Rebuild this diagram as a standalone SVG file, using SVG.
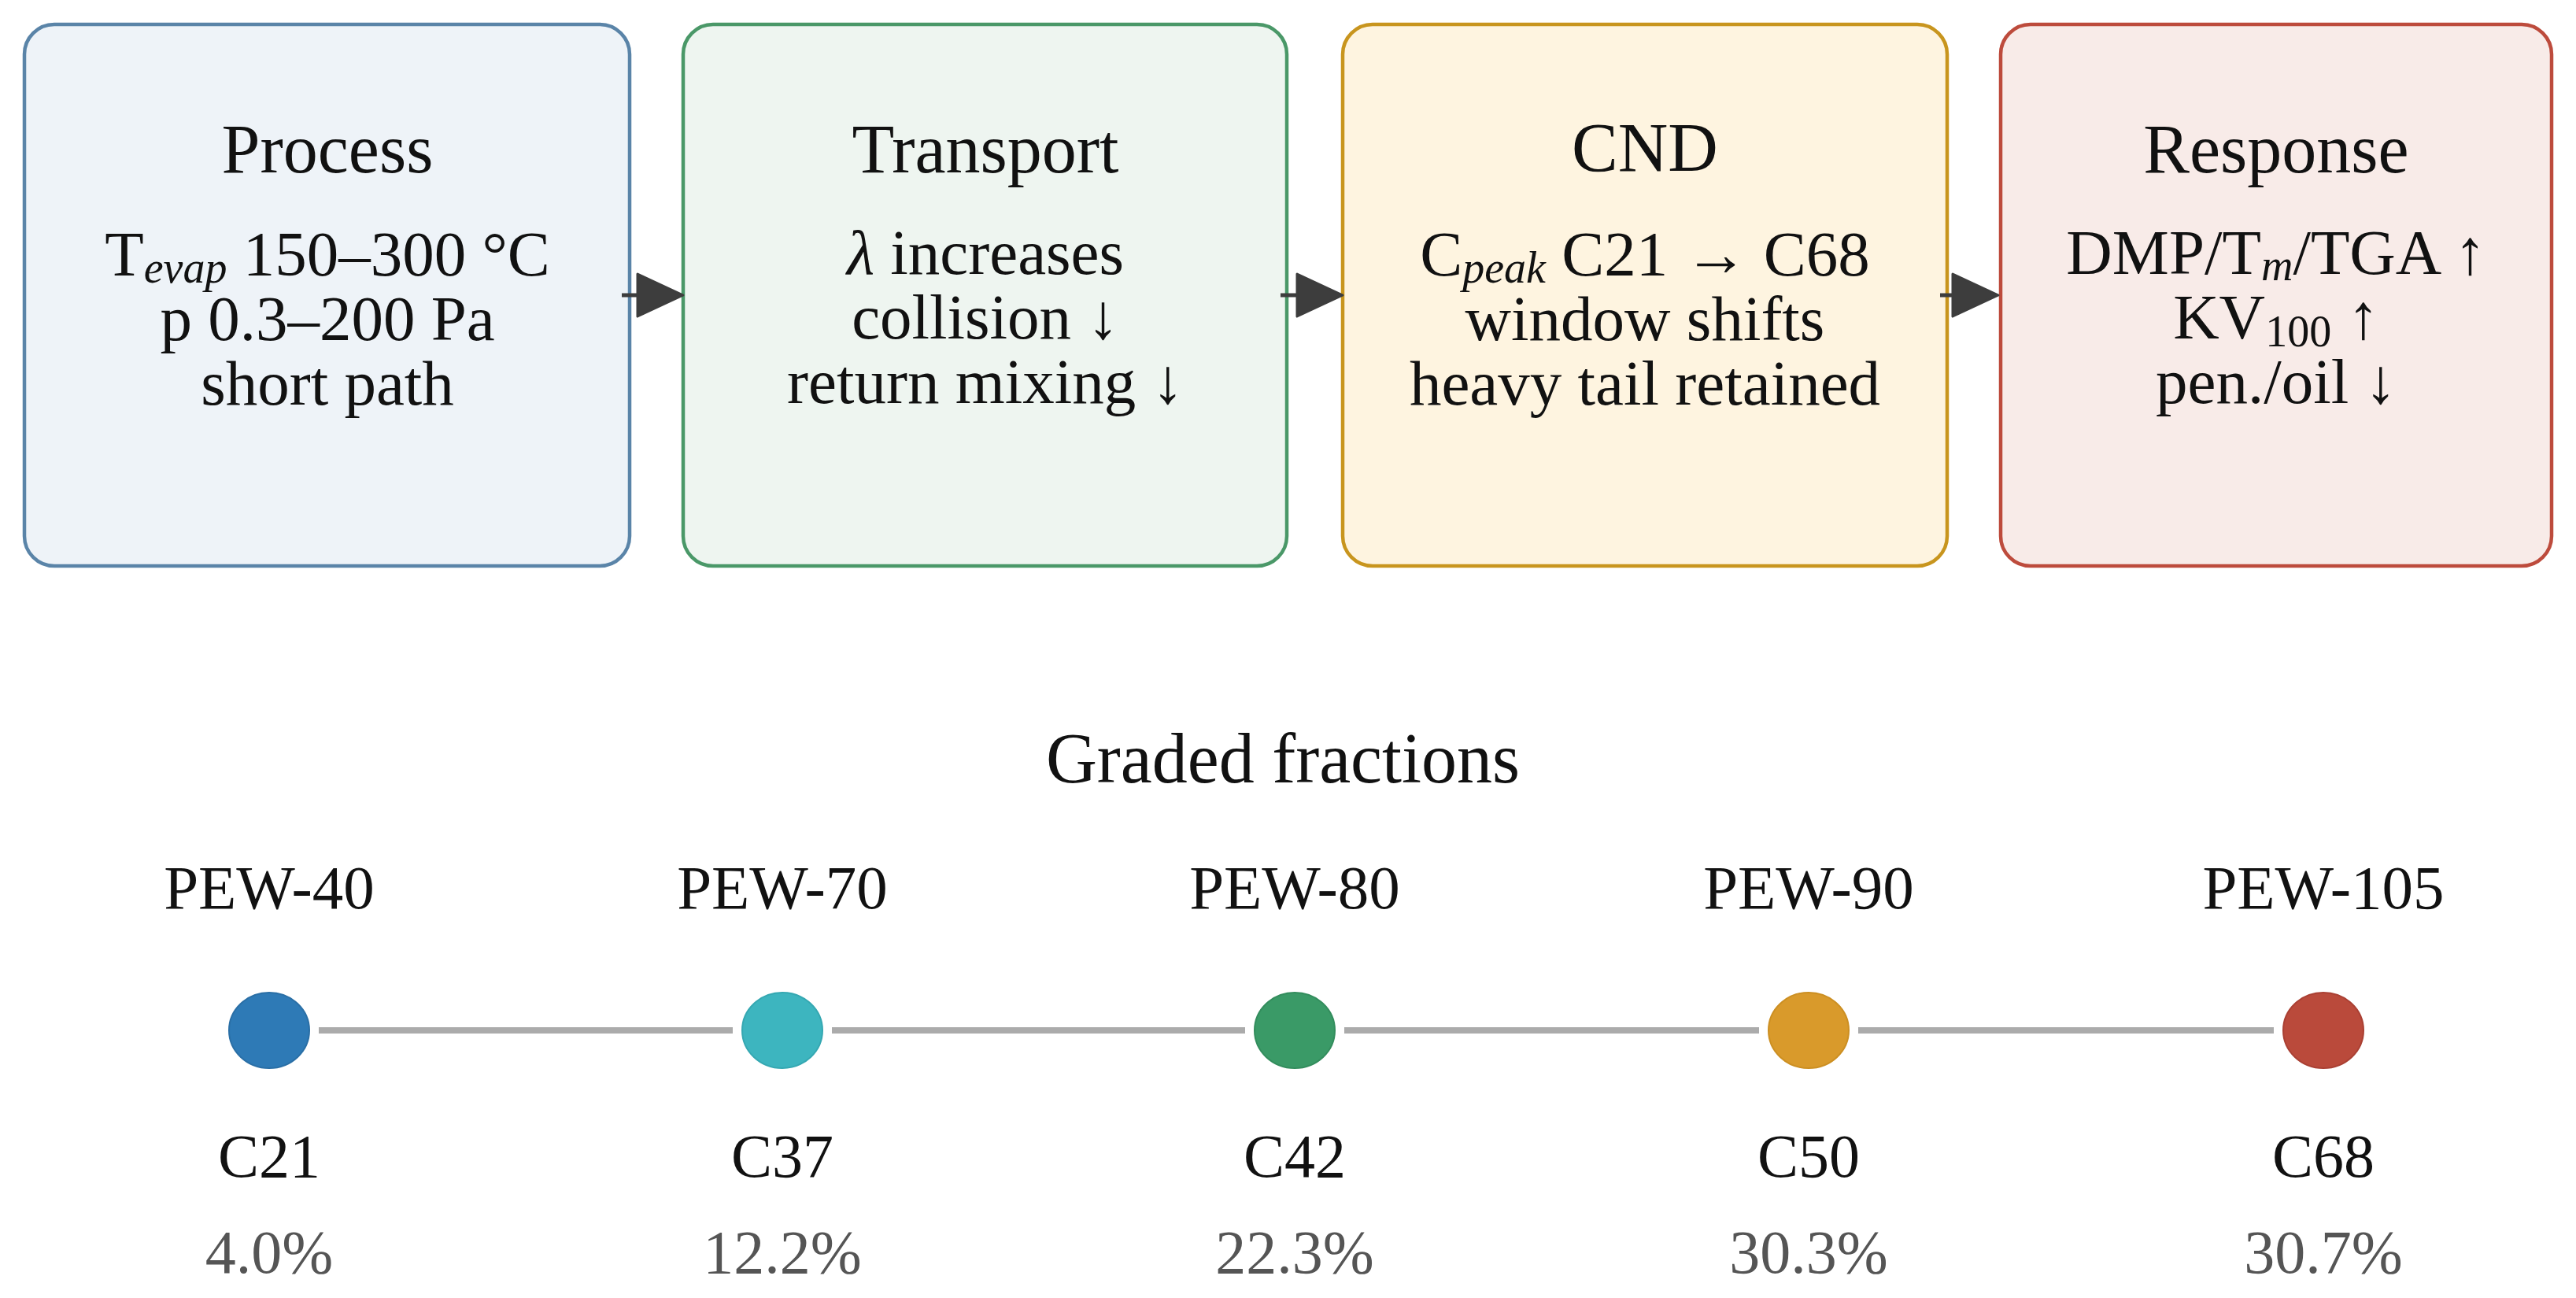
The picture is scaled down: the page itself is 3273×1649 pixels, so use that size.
<svg xmlns="http://www.w3.org/2000/svg" width="3273" height="1649" viewBox="0 0 3273 1649">
<defs>
<style>
text{font-family:"Liberation Serif","Times New Roman",serif;fill:#111;text-anchor:middle}
.title{font-size:88px}
.body{font-size:81px}
.sub{font-size:56px;font-style:italic}
.subn{font-size:56px}
.box{stroke-width:4.5}
.arrow{stroke:#3d3d3d;stroke-width:5;fill:none}
.gtitle{font-size:90px}
.lab{font-size:79px}
.cn{font-size:78px}
.pct{font-size:78px;fill:#555}
.tl{stroke:#ababab;stroke-width:8}
</style>
<marker id="ah" markerUnits="userSpaceOnUse" markerWidth="62" markerHeight="58" refX="2" refY="27" orient="auto" viewBox="-2 -2 62 58">
<path d="M0,0 L58,27 L0,54 Z" fill="#3d3d3d" stroke="#3d3d3d" stroke-width="3" stroke-linejoin="round"/>
</marker>
</defs>
<rect width="3273" height="1649" fill="#ffffff"/>

<g id="node-process">
<rect class="box" x="31" y="31" width="769" height="688" rx="38" fill="#eef3f8" stroke="#5a84a8"/>
<text class="title" x="416" y="219">Process</text>
<text class="body" x="416" y="350">T<tspan class="sub" dy="9">evap</tspan><tspan dy="-9"> 150–300  °C</tspan></text>
<text class="body" x="416" y="432">p 0.3–200 Pa</text>
<text class="body" x="416" y="514">short path</text>
</g>

<g id="node-transport">
<rect class="box" x="868" y="31" width="767" height="688" rx="38" fill="#eef5f0" stroke="#4a9868"/>
<text class="title" x="1252" y="219">Transport</text>
<text class="body" x="1252" y="348"><tspan font-style="italic">λ</tspan> increases</text>
<text class="body" x="1252" y="430">collision ↓</text>
<text class="body" x="1252" y="512">return mixing ↓</text>
</g>

<g id="node-cnd">
<rect class="box" x="1706" y="31" width="768" height="688" rx="38" fill="#fef4e0" stroke="#c8951e"/>
<text class="title" x="2090" y="217">CND</text>
<text class="body" x="2090" y="350">C<tspan class="sub" dy="9">peak</tspan><tspan dy="-9"> C21 → C68</tspan></text>
<text class="body" x="2090" y="432">window shifts</text>
<text class="body" x="2090" y="514">heavy tail retained</text>
</g>

<g id="node-response">
<rect class="box" x="2542" y="31" width="700" height="688" rx="38" fill="#f8ebe8" stroke="#bd4b3c"/>
<text class="title" x="2892" y="219">Response</text>
<text class="body" x="2892" y="348">DMP/T<tspan class="sub" dy="8">m</tspan><tspan dy="-8">/TGA ↑</tspan></text>
<text class="body" x="2892" y="430">KV<tspan class="subn" dy="10">100</tspan><tspan dy="-10"> ↑</tspan></text>
<text class="body" x="2892" y="512">pen./oil ↓</text>
</g>

<g id="connectors">
<line class="arrow" x1="790" y1="375" x2="812" y2="375" marker-end="url(#ah)"/>
<line class="arrow" x1="1627" y1="375" x2="1650" y2="375" marker-end="url(#ah)"/>
<line class="arrow" x1="2465" y1="375" x2="2483" y2="375" marker-end="url(#ah)"/>
<line class="tl" x1="405" y1="1309" x2="931" y2="1309"/>
<line class="tl" x1="1057" y1="1309" x2="1582" y2="1309"/>
<line class="tl" x1="1708" y1="1309" x2="2235" y2="1309"/>
<line class="tl" x1="2361" y1="1309" x2="2889" y2="1309"/>
</g>

<text class="gtitle" x="1630" y="994">Graded fractions</text>

<g id="frac-pew40">
<text class="lab" x="342" y="1154">PEW-40</text>
<ellipse cx="342" cy="1309" rx="51" ry="48" fill="#2e7ab6" stroke="#2a6fa6" stroke-width="2"/>
<text class="cn" x="342" y="1495">C21</text>
<text class="pct" x="342" y="1617">4.0%</text>
</g>
<g id="frac-pew70">
<text class="lab" x="994" y="1154">PEW-70</text>
<ellipse cx="994" cy="1309" rx="51" ry="48" fill="#3db5bf" stroke="#35a8b2" stroke-width="2"/>
<text class="cn" x="994" y="1495">C37</text>
<text class="pct" x="994" y="1617">12.2%</text>
</g>
<g id="frac-pew80">
<text class="lab" x="1645" y="1154">PEW-80</text>
<ellipse cx="1645" cy="1309" rx="51" ry="48" fill="#3a9a67" stroke="#338d5d" stroke-width="2"/>
<text class="cn" x="1645" y="1495">C42</text>
<text class="pct" x="1645" y="1617">22.3%</text>
</g>
<g id="frac-pew90">
<text class="lab" x="2298" y="1154">PEW-90</text>
<ellipse cx="2298" cy="1309" rx="51" ry="48" fill="#d99a2b" stroke="#cc8f22" stroke-width="2"/>
<text class="cn" x="2298" y="1495">C50</text>
<text class="pct" x="2298" y="1617">30.3%</text>
</g>
<g id="frac-pew105">
<text class="lab" x="2952" y="1154">PEW-105</text>
<ellipse cx="2952" cy="1309" rx="51" ry="48" fill="#ba4a3b" stroke="#aa4033" stroke-width="2"/>
<text class="cn" x="2952" y="1495">C68</text>
<text class="pct" x="2952" y="1617">30.7%</text>
</g>
</svg>
